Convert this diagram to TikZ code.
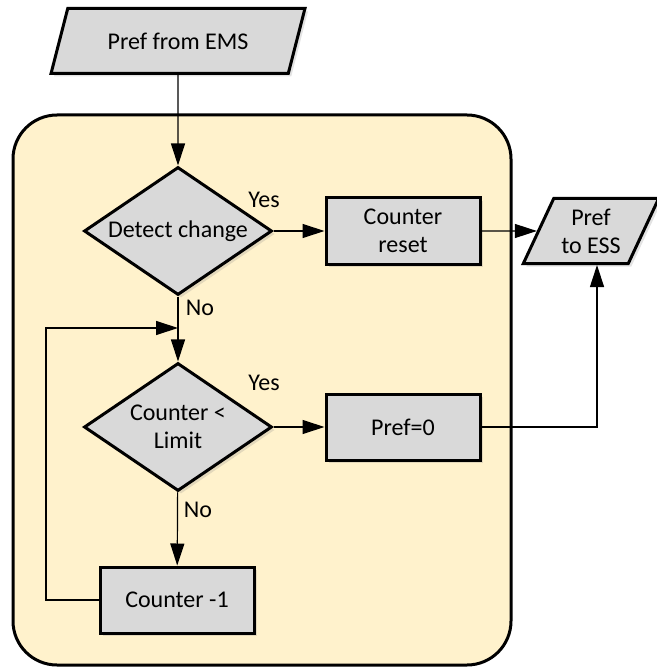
\documentclass[tikz,border=0pt]{standalone}
\usepackage{fontspec}
\setmainfont{Carlito}
\usetikzlibrary{shapes.geometric,arrows.meta,shadows}

\definecolor{boxgray}{HTML}{D9D9D9}
\definecolor{loopbg}{HTML}{FFF2CC}

\begin{document}
\begin{tikzpicture}[x=0.5pt, y=-0.5pt,
    font=\fontsize{12}{14}\selectfont,
    softshadow/.style={drop shadow={opacity=0.22, shadow xshift=1.5pt, shadow yshift=-1.5pt}},
    procbox/.style={draw, line width=1.5pt, fill=boxgray, softshadow, align=center,
      minimum width=77pt, minimum height=33pt, inner sep=2pt},
    decision/.style={diamond, draw, line width=1.5pt, fill=boxgray, softshadow, align=center,
      aspect=1.47, inner sep=1pt, minimum width=94pt, minimum height=64pt},
    iobox/.style={trapezium, trapezium left angle=62, trapezium right angle=118,
      trapezium stretches=true, draw, line width=1.5pt, fill=boxgray, softshadow,
      align=center, minimum height=32.5pt, inner sep=1pt},
    flow/.style={-{Triangle[length=11pt,width=7pt]}, line width=0.6pt},
    tag/.style={inner sep=0pt}]

    \useasboundingbox (0,0) rectangle (657,668);

    % Loop area
    \draw[line width=1.5pt, fill=loopbg, rounded corners=22pt] (13,115) rectangle (511,665);

    % Input and output
    \node[iobox, minimum width=128pt] (ems) at (178,41) {Pref from EMS};
    \node[iobox, minimum width=68pt] (ess) at (591,231) {Pref\\to ESS};

    % Decisions
    \node[decision] (detect) at (178,231) {Detect change};
    \node[decision] (limit) at (178,427) {Counter <\\Limit};

    % Actions
    \node[procbox] (reset) at (403,231) {Counter\\reset};
    \node[procbox] (zero) at (403,427) {Pref=0};
    \node[procbox] (dec) at (177,600) {Counter -1};

    % Loop back point
    \coordinate (merge) at (178,328);
    \coordinate (back) at (46,328);

    % Connectors
    \draw[flow] (ems) -- (detect);
    \draw[flow] (detect) -- (reset);
    \draw[flow] (reset) -- (ess.west);
    \draw[flow] (detect) -- (limit);
    \draw[flow] (limit) -- (zero);
    \draw[flow] (zero.east) -| ([xshift=3pt]ess.south);
    \draw[flow] (limit) -- (dec);
    \draw[flow] (dec.west) -| (back) -- (merge);

    % Labels
    \node[tag] (yes1) at (264,200) {Yes};
    \node[tag] (no1) at (200,308) {No};
    \node[tag] (yes2) at (264,383) {Yes};
    \node[tag] (no2) at (198,510) {No};
  \end{tikzpicture}
\end{document}
